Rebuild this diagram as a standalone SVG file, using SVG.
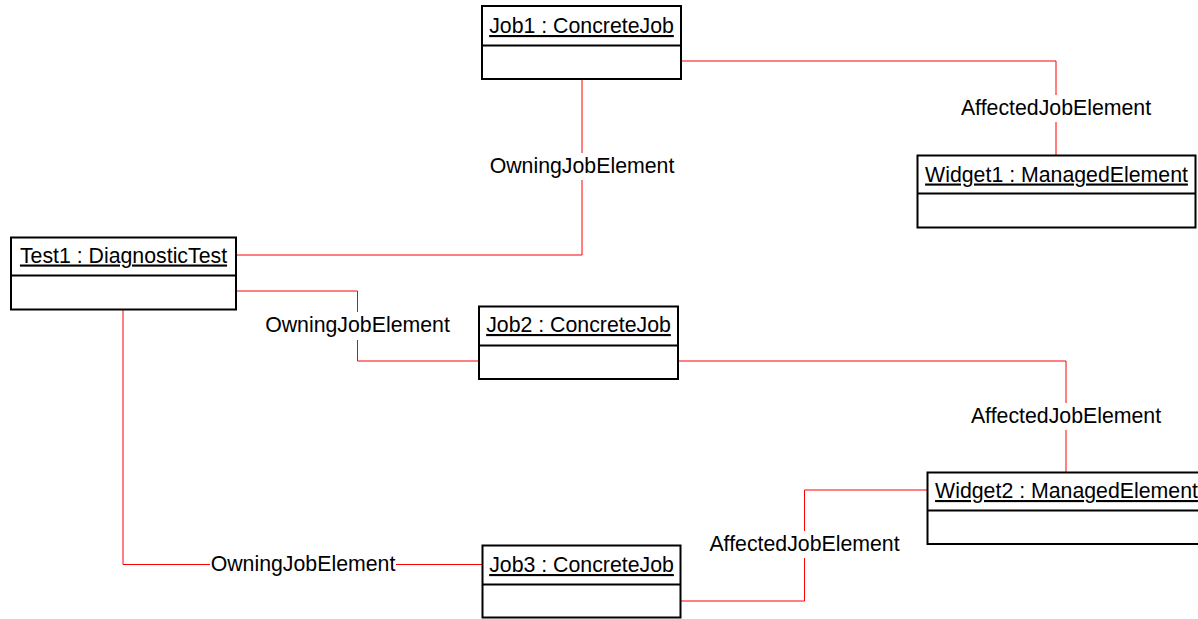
<svg xmlns="http://www.w3.org/2000/svg" width="1198" height="619" viewBox="0 0 1198 619">
<style>
.box{fill:#fff;stroke:#000;stroke-width:2}
.div{stroke:#000;stroke-width:2}
.title{font-family:"Liberation Sans",Arial,sans-serif;font-size:21.3px;fill:#000;text-anchor:middle;text-decoration:underline}
.conn{fill:none;stroke:#ff0000;stroke-width:1}
.lbg{fill:#fff}
.lbl{font-family:"Liberation Sans",Arial,sans-serif;font-size:21.3px;fill:#000;text-anchor:middle}
</style>
<rect width="1198" height="619" fill="#fff"/>
<g id="connectors">
<polyline class="conn" points="681,61 1056,61 1056,155.5"/>
<polyline class="conn" points="582,79 582,255 236,255"/>
<polyline class="conn" points="236,291 357.5,291 357.5,361 479,361"/>
<polyline class="conn" points="678,361 1066,361 1066,472.5"/>
<polyline class="conn" points="927.5,490 804.5,490 804.5,601 680.5,601"/>
<polyline class="conn" points="123,309.5 123,564.5 482.5,564.5"/>
<g id="labels">
<rect class="lbg" x="960" y="95" width="192" height="27"/>
<text class="lbl" x="1056" y="115">AffectedJobElement</text>
<rect class="lbg" x="488" y="153" width="188" height="27"/>
<text class="lbl" x="582" y="173">OwningJobElement</text>
<rect class="lbg" x="264" y="312" width="187" height="28"/>
<text class="lbl" x="357.5" y="332">OwningJobElement</text>
<rect class="lbg" x="970" y="403" width="192" height="27"/>
<text class="lbl" x="1066" y="423">AffectedJobElement</text>
<rect class="lbg" x="708.5" y="531" width="192" height="27"/>
<text class="lbl" x="804.5" y="551">AffectedJobElement</text>
<rect class="lbg" x="210" y="551" width="186" height="27"/>
<text class="lbl" x="303" y="571">OwningJobElement</text>
</g>
</g>
<g id="job1">
<rect class="box" x="482" y="6" width="199" height="73"/>
<line class="div" x1="482" y1="45.5" x2="681" y2="45.5"/>
<text class="title" x="581.5" y="33">Job1 : ConcreteJob</text>
</g>
<g id="test1">
<rect class="box" x="11" y="237.5" width="225" height="72"/>
<line class="div" x1="11" y1="275.5" x2="236" y2="275.5"/>
<text class="title" x="123.5" y="262.5">Test1 : DiagnosticTest</text>
</g>
<g id="widget1">
<rect class="box" x="917.5" y="155.5" width="278" height="72"/>
<line class="div" x1="917.5" y1="193.5" x2="1195.5" y2="193.5"/>
<text class="title" x="1056.5" y="181.5">Widget1 : ManagedElement</text>
</g>
<g id="job2">
<rect class="box" x="479" y="306.5" width="199" height="72.5"/>
<line class="div" x1="479" y1="345.5" x2="678" y2="345.5"/>
<text class="title" x="578.5" y="332">Job2 : ConcreteJob</text>
</g>
<g id="widget2">
<rect class="box" x="927.5" y="472.5" width="278" height="71.5"/>
<line class="div" x1="927.5" y1="510.5" x2="1205.5" y2="510.5"/>
<text class="title" x="1066.5" y="498">Widget2 : ManagedElement</text>
</g>
<g id="job3">
<rect class="box" x="482.5" y="545.5" width="198" height="72"/>
<line class="div" x1="482.5" y1="584.5" x2="680.5" y2="584.5"/>
<text class="title" x="581.5" y="572">Job3 : ConcreteJob</text>
</g>
</svg>
